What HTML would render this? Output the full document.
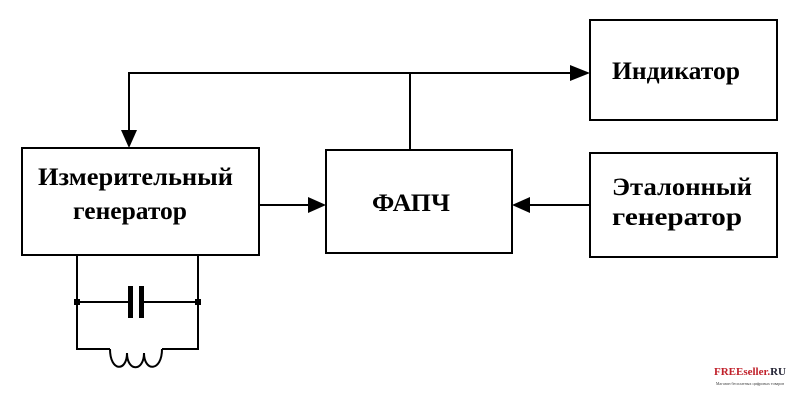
<!DOCTYPE html>
<html><head><meta charset="utf-8"><style>
body{margin:0;background:#fff;width:800px;height:400px;overflow:hidden}
</style></head><body>
<svg width="800" height="400" xmlns="http://www.w3.org/2000/svg" style="position:absolute;left:0;top:0">
<g stroke="#000" stroke-width="2" fill="none">
<rect x="22" y="148" width="237" height="107"/>
<rect x="326" y="150" width="186" height="103"/>
<rect x="590" y="20" width="187" height="100"/>
<rect x="590" y="153" width="187" height="104"/>
<polyline points="129,140 129,73 580,73"/>
<line x1="410" y1="73" x2="410" y2="150"/>
<line x1="259" y1="205" x2="316" y2="205"/>
<line x1="590" y1="205" x2="522" y2="205"/>
<polyline points="77,255 77,349 110,349"/>
<polyline points="198,255 198,349 162,349"/>
<line x1="77" y1="302" x2="130" y2="302"/>
<line x1="142" y1="302" x2="198" y2="302"/>
<path d="M110,349 C110,372 127,372 127,353 C127,372 144,372 144,353 C144,372 162,372 162,349"/>
</g>
<g fill="#000">
<rect x="128" y="286" width="5" height="32"/>
<rect x="139" y="286" width="5" height="32"/>
<rect x="74" y="299" width="6" height="6"/>
<rect x="195" y="299" width="6" height="6"/>
<polygon points="570,65 590,73 570,81"/>
<polygon points="121,130 137,130 129,148"/>
<polygon points="308,197 326,205 308,213"/>
<polygon points="530,197 512,205 530,213"/>
</g>
<g font-family="Liberation Serif, DejaVu Serif, serif" font-weight="bold" font-size="25" fill="#000">
<text x="38" y="185" textLength="195" lengthAdjust="spacingAndGlyphs">Измерительный</text>
<text x="73" y="219" textLength="114" lengthAdjust="spacingAndGlyphs">генератор</text>
<text x="372" y="211" textLength="78" lengthAdjust="spacingAndGlyphs">ФАПЧ</text>
<text x="612" y="79" textLength="128" lengthAdjust="spacingAndGlyphs">Индикатор</text>
<text x="612" y="195" textLength="140" lengthAdjust="spacingAndGlyphs">Эталонный</text>
<text x="612" y="225" textLength="130" lengthAdjust="spacingAndGlyphs">генератор</text>
</g>
<text x="750" y="375" text-anchor="middle" font-family="Liberation Serif, serif" font-weight="bold" font-size="11" fill="#c0202a">FREEseller.<tspan fill="#223">RU</tspan></text>
<text x="750" y="385" text-anchor="middle" font-family="Liberation Serif, serif" font-size="4" fill="#444">Магазин бесплатных цифровых товаров</text>
</svg>
</body></html>
